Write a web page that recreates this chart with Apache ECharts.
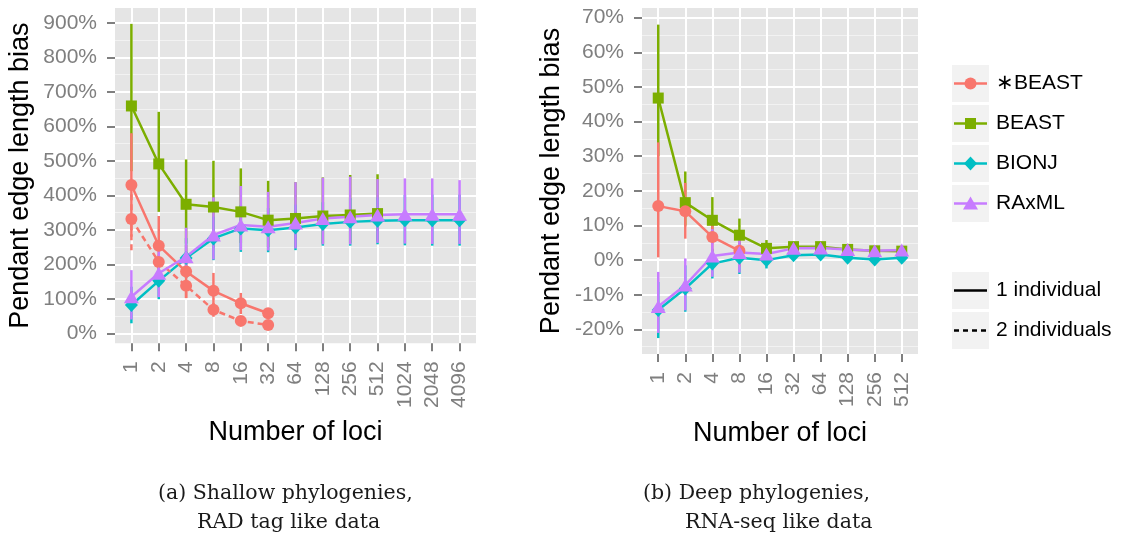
<!DOCTYPE html>
<html>
<head>
<meta charset="utf-8">
<script src="https://cdn.jsdelivr.net/npm/echarts@6/dist/echarts.min.js"></script>
<style>
  html, body { margin: 0; padding: 0; background: #ffffff; }
  #chart { width: 1122px; height: 538px; }
</style>
</head>
<body>
<div id="chart"></div>
<script>
// ---- Tick labels -------------------------------------------------------
const lociShallow = ['1', '2', '4', '8', '16', '32', '64', '128', '256', '512', '1024', '2048', '4096'];
const lociDeep = ['1', '2', '4', '8', '16', '32', '64', '128', '256', '512'];
const yTicksShallow = [0, 100, 200, 300, 400, 500, 600, 700, 800, 900];
const yMinorShallow = [50, 150, 250, 350, 450, 550, 650, 750, 850];
const yTicksDeep = [-20, -10, 0, 10, 20, 30, 40, 50, 60, 70];
const yMinorDeep = [-25, -15, -5, 5, 15, 25, 35, 45, 55, 65];

// ---- (a) Shallow phylogenies: bias (%) with error bar bounds -----------
const shStar1 = [430, 254, 179, 123, 87, 58];
const shStar1Lo = [280, 168, 102, 74, 56, 46];
const shStar1Hi = [580, 340, 256, 175, 117, 70];
const shStar2 = [331, 207, 138, 68, 36, 24];
const shStar2Lo = [241, 152, 102, 48, 26, 18];
const shStar2Hi = [421, 262, 174, 88, 46, 30];
const shBeast = [659, 491, 374, 366, 352, 328, 333, 340, 343, 347];
const shBeastLo = [470, 352, 260, 250, 262, 250, 250, 260, 262, 266];
const shBeastHi = [897, 642, 504, 500, 478, 442, 438, 452, 459, 461];
const shBionj = [82, 152, 218, 275, 304, 299, 307, 317, 323, 326, 328, 328, 328];
const shBionjLo = [29, 99, 160, 212, 236, 235, 241, 254, 254, 258, 255, 254, 254];
const shBionjHi = [135, 205, 276, 338, 372, 363, 373, 380, 392, 394, 401, 402, 402];
const shRaxml = [106, 174, 222, 285, 314, 309, 320, 333, 338, 343, 345, 345, 345];
const shRaxmlLo = [40, 105, 165, 214, 241, 240, 246, 258, 258, 262, 260, 259, 259];
const shRaxmlHi = [183, 250, 306, 394, 427, 410, 438, 451, 454, 447, 449, 449, 444];

// ---- (b) Deep phylogenies ---------------------------------------------
const dpStar = [15.6, 14.1, 6.7, 2.7];
const dpStarLo = [0.8, 6.2, 0.7, -1.9];
const dpStarHi = [34, 22.3, 12.7, 7.2];
const dpBeast = [46.8, 16.6, 11.5, 7.2, 3.4, 3.9, 3.9, 3.1, 2.7, 2.6];
const dpBeastLo = [30, 10, 6, 3.5, 1.8, 2.6, 2.8, 2.0, 1.6, 1.6];
const dpBeastHi = [68, 25.6, 18.2, 12, 5.8, 5.2, 5.0, 4.3, 3.8, 3.6];
const dpBionj = [-14.4, -8.2, -1.0, 0.7, 0.0, 1.4, 1.6, 0.7, 0.2, 0.7];
const dpBionjLo = [-22.5, -14.9, -5.3, -4.0, -2.4, 0.3, 0.5, -0.3, -0.7, -0.2];
const dpBionjHi = [-6.3, -1.5, 3.3, 5.4, 2.4, 2.5, 2.7, 1.7, 1.1, 1.6];
const dpRaxml = [-13.4, -7.2, 1.2, 2.2, 1.8, 3.4, 3.5, 3.1, 2.7, 2.9];
const dpRaxmlLo = [-21, -14.5, -4.8, -3.6, -1.6, 2.2, 2.3, 2.1, 1.8, 2.0];
const dpRaxmlHi = [-3.4, 0.5, 9, 7, 4, 4.6, 4.7, 4.1, 3.6, 3.8];

// ---- Styling -----------------------------------------------------------
const C_STAR = '#F8766D', C_BEAST = '#7CAE00', C_BIONJ = '#00BFC4', C_RAXML = '#C77CFF';
const SANS = '"Liberation Sans", Arial, Helvetica, sans-serif';
const SERIF = '"DejaVu Serif", serif';
const TICK_GREY = '#7F7F7F';
const DASH = [6, 4];
const LINE_W = 2.5;

const SHAPES = {
  circle: { symbol: 'circle', size: 12 },
  square: { symbol: 'rect', size: 11 },
  diamond: { symbol: 'diamond', size: [13, 14] },
  triangle: { symbol: 'triangle', size: [15, 13] }
};

function toPoints(values) { return values.map((v, i) => [i, v]); }
function toBars(lo, hi) { return lo.map((v, i) => [i, v, hi[i]]); }

function errorBars(grid, lo, hi, color, dashed) {
  return {
    type: 'custom', xAxisIndex: grid, yAxisIndex: grid * 2 + 1, z: 2, silent: true,
    encode: { x: 0, y: [1, 2] },
    data: toBars(lo, hi),
    renderItem(params, api) {
      const a = api.coord([api.value(0), api.value(1)]);
      const b = api.coord([api.value(0), api.value(2)]);
      return {
        type: 'line',
        shape: { x1: a[0], y1: a[1], x2: b[0], y2: b[1] },
        style: { stroke: color, lineWidth: LINE_W, lineDash: dashed ? DASH : null }
      };
    }
  };
}

function trend(grid, values, color, dashed) {
  return {
    type: 'line', xAxisIndex: grid, yAxisIndex: grid * 2 + 1, z: 3, silent: true,
    data: toPoints(values), symbol: 'none', showSymbol: false,
    lineStyle: { color, width: LINE_W, type: dashed ? DASH : 'solid' }
  };
}

function markers(grid, values, color, shape) {
  return {
    type: 'scatter', xAxisIndex: grid, yAxisIndex: grid * 2 + 1, z: 4, silent: true,
    data: toPoints(values), symbol: SHAPES[shape].symbol, symbolSize: SHAPES[shape].size,
    itemStyle: { color, opacity: 1 }
  };
}

// One panel: error bars below lines, lines below markers
function panel(grid, groups) {
  const out = [];
  groups.forEach(g => out.push(errorBars(grid, g.lo, g.hi, g.color, g.dashed)));
  groups.forEach(g => out.push(trend(grid, g.mean, g.color, g.dashed)));
  groups.forEach(g => out.push(markers(grid, g.mean, g.color, g.shape)));
  return out;
}

const shallowGroups = [
  { mean: shBeast, lo: shBeastLo, hi: shBeastHi, color: C_BEAST, shape: 'square' },
  { mean: shBionj, lo: shBionjLo, hi: shBionjHi, color: C_BIONJ, shape: 'diamond' },
  { mean: shStar2, lo: shStar2Lo, hi: shStar2Hi, color: C_STAR, shape: 'circle', dashed: true },
  { mean: shStar1, lo: shStar1Lo, hi: shStar1Hi, color: C_STAR, shape: 'circle' },
  { mean: shRaxml, lo: shRaxmlLo, hi: shRaxmlHi, color: C_RAXML, shape: 'triangle' }
];
const deepGroups = [
  { mean: dpBeast, lo: dpBeastLo, hi: dpBeastHi, color: C_BEAST, shape: 'square' },
  { mean: dpBionj, lo: dpBionjLo, hi: dpBionjHi, color: C_BIONJ, shape: 'diamond' },
  { mean: dpStar, lo: dpStarLo, hi: dpStarHi, color: C_STAR, shape: 'circle' },
  { mean: dpRaxml, lo: dpRaxmlLo, hi: dpRaxmlHi, color: C_RAXML, shape: 'triangle' }
];

function xAxisFor(grid, labels, nameGap) {
  const idx = labels.map((_, i) => i);
  return {
    type: 'value', gridIndex: grid, min: -0.6, max: labels.length - 0.4, position: 'bottom',
    axisLine: { show: false, onZero: false },
    axisTick: { show: true, length: 8, lineStyle: { color: TICK_GREY, width: 2 }, customValues: idx },
    axisLabel: {
      customValues: idx, formatter: v => labels[Math.round(v)], rotate: 90, margin: 18,
      fontSize: 21, color: TICK_GREY, fontFamily: SANS
    },
    splitLine: { show: true, lineStyle: { color: '#FFFFFF', width: 2 } },
    name: 'Number of loci', nameLocation: 'middle', nameGap, nameMoveOverlap: false,
    nameTextStyle: { fontSize: 27, color: '#000000', fontFamily: SANS }
  };
}

function yAxesFor(grid, min, max, ticks, minor, nameGap) {
  return [
    {
      type: 'value', gridIndex: grid, min, max, position: 'right',
      axisLine: { show: false, onZero: false }, axisLabel: { show: false },
      axisTick: { show: false, customValues: minor },
      splitLine: { show: true, lineStyle: { color: '#F2F2F2', width: 1 } }
    },
    {
      type: 'value', gridIndex: grid, min, max, position: 'left',
      axisLine: { show: false, onZero: false },
      axisTick: { show: true, length: 8, lineStyle: { color: TICK_GREY, width: 2 }, customValues: ticks },
      axisLabel: {
        customValues: ticks, formatter: v => v + '%', margin: 18,
        fontSize: 21, color: TICK_GREY, fontFamily: SANS
      },
      splitLine: { show: true, lineStyle: { color: '#FFFFFF', width: 2 } },
      name: 'Pendant edge length bias', nameLocation: 'middle', nameRotate: 90, nameGap,
      nameMoveOverlap: false,
      nameTextStyle: { fontSize: 27, color: '#000000', fontFamily: SANS }
    }
  ];
}

// ---- Legend (drawn as graphic elements) ---------------------------------
function legendGraphic() {
  const kx = 952, kw = 37, kh = 37;
  const cx = kx + kw / 2;
  const items = [];
  const colourKeys = [
    { label: '∗BEAST', color: C_STAR, shape: 'circle' },
    { label: 'BEAST', color: C_BEAST, shape: 'square' },
    { label: 'BIONJ', color: C_BIONJ, shape: 'diamond' },
    { label: 'RAxML', color: C_RAXML, shape: 'triangle' }
  ];
  colourKeys.forEach((k, i) => {
    const top = 65 + i * 40, cy = top + kh / 2;
    items.push({ type: 'rect', shape: { x: kx, y: top, width: kw, height: kh }, style: { fill: '#F2F2F2' } });
    items.push({ type: 'line', shape: { x1: kx + 2, y1: cy, x2: kx + kw - 2, y2: cy }, style: { stroke: k.color, lineWidth: LINE_W } });
    if (k.shape === 'circle') {
      items.push({ type: 'circle', shape: { cx, cy, r: 6 }, style: { fill: k.color } });
    } else if (k.shape === 'square') {
      items.push({ type: 'rect', shape: { x: cx - 5.5, y: cy - 5.5, width: 11, height: 11 }, style: { fill: k.color } });
    } else if (k.shape === 'diamond') {
      items.push({ type: 'polygon', shape: { points: [[cx, cy - 7], [cx + 6.5, cy], [cx, cy + 7], [cx - 6.5, cy]] }, style: { fill: k.color } });
    } else {
      items.push({ type: 'polygon', shape: { points: [[cx, cy - 7], [cx + 7.5, cy + 6], [cx - 7.5, cy + 6]] }, style: { fill: k.color } });
    }
    items.push({ type: 'text', style: { text: k.label, x: 996, y: cy, verticalAlign: 'middle', align: 'left', font: '21px ' + SANS, fill: '#000000' } });
  });
  const typeKeys = [
    { label: '1 individual', dash: null },
    { label: '2 individuals', dash: [5, 4] }
  ];
  typeKeys.forEach((k, i) => {
    const top = 272 + i * 40, cy = top + kh / 2;
    items.push({ type: 'rect', shape: { x: kx, y: top, width: kw, height: kh }, style: { fill: '#F2F2F2' } });
    items.push({ type: 'line', shape: { x1: kx + 2, y1: cy, x2: kx + kw - 2, y2: cy }, style: { stroke: '#000000', lineWidth: LINE_W, lineDash: k.dash } });
    items.push({ type: 'text', style: { text: k.label, x: 996, y: cy, verticalAlign: 'middle', align: 'left', font: '21px ' + SANS, fill: '#000000' } });
  });
  return items;
}

function captionGraphic() {
  const font = '20.5px ' + SERIF;
  const mk = (text, x, y) => ({ type: 'text', style: { text, x, y, font, fill: '#1a1a1a', align: 'left', verticalAlign: 'middle' } });
  return [
    mk('(a) Shallow phylogenies,', 158, 494),
    mk('RAD tag like data', 197, 523),
    mk('(b) Deep phylogenies,', 643, 494),
    mk('RNA-seq like data', 685, 523)
  ];
}

const chart = echarts.init(document.getElementById('chart'), null, { renderer: 'canvas' });
chart.setOption({
  animation: false,
  backgroundColor: '#FFFFFF',
  textStyle: { fontFamily: SANS },
  grid: [
    { left: 115, top: 8, width: 361, height: 335.3, show: true, backgroundColor: '#E5E5E5', borderWidth: 0, containLabel: false, outerBoundsMode: 'none' },
    { left: 642, top: 8, width: 276, height: 346, show: true, backgroundColor: '#E5E5E5', borderWidth: 0, containLabel: false, outerBoundsMode: 'none' }
  ],
  xAxis: [xAxisFor(0, lociShallow, 76), xAxisFor(1, lociDeep, 66)],
  yAxis: [].concat(
    yAxesFor(0, -29, 943, yTicksShallow, yMinorShallow, 81),
    yAxesFor(1, -27.1, 72.8, yTicksDeep, yMinorDeep, 77)
  ),
  series: [].concat(panel(0, shallowGroups), panel(1, deepGroups)),
  graphic: { elements: legendGraphic().concat(captionGraphic()) }
});
</script>
</body>
</html>
